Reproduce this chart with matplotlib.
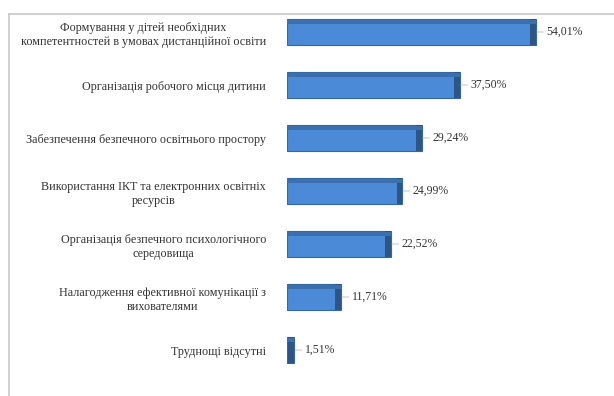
import matplotlib
matplotlib.use("Agg")
from matplotlib import pyplot as plt
from matplotlib.lines import Line2D
import numpy as np

# categories, top to bottom
labels = [
    "Формування у дітей необхідних\nкомпетентностей в умовах дистанційної освіти",
    "Організація робочого місця дитини",
    "Забезпечення безпечного освітнього простору",
    "Використання ІКТ та електронних освітніх\nресурсів",
    "Організація безпечного психологічного\nсередовища",
    "Налагодження ефективної комунікації з\nвихователями",
    "Труднощі відсутні",
]
values = [54.01, 37.50, 29.24, 24.99, 22.52, 11.71, 1.51]
value_text = ["54,01%", "37,50%", "29,24%", "24,99%", "22,52%", "11,71%", "1,51%"]

plt.rcParams['font.family'] = ['Liberation Serif', 'DejaVu Serif']

fig = plt.figure(figsize=(6.14, 3.96), dpi=100)
ax = fig.add_axes([287/614, 1 - 376.5/396, 1 - 287/614, (376.5 - 5.5)/396])

y = np.arange(len(values))
cap = 1.2
ax.barh(y, values, height=0.48, color="#4A8AD6", edgecolor="#3568A3", linewidth=0.8)
# darker end cap to mimic the 3D look
ax.barh(y, [cap] * len(values), left=np.array(values) - cap, height=0.48,
        color="#2C5588", linewidth=0)
ax.barh(y - 0.19, values, height=0.06, color="#3B6FAE", linewidth=0)

for i, (v, t) in enumerate(zip(values, value_text)):
    ax.annotate(t, xy=(v + 0.2, i), xytext=(7, 0), textcoords="offset points",
                va="center", ha="left", fontsize=8.5, color="#333333",
                arrowprops=dict(arrowstyle="-", color="#AAAAAA", lw=0.5,
                                shrinkA=0, shrinkB=0))

ax.set_yticks(y)
ax.set_yticklabels(labels, fontsize=8.7, color="#333333", linespacing=1.25,
                   multialignment="center")
ax.tick_params(axis="y", length=0, pad=15)
ax.set_xticks([])
ax.set_xlim(0, 71)
ax.set_ylim(len(values) - 0.5, -0.5)
for s in ax.spines.values():
    s.set_visible(False)

# outer chart border (top and left visible)
fig.add_artist(Line2D([9/614, 1], [1 - 14/396, 1 - 14/396], color="#C8C8C8", lw=1.2))
fig.add_artist(Line2D([9/614, 9/614], [0, 1 - 14/396], color="#C8C8C8", lw=1.2))

fig.savefig("out.png", dpi=100)
